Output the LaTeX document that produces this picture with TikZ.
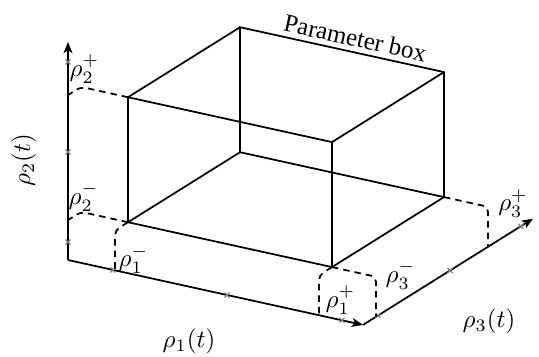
\documentclass[tikz,border=0pt]{standalone}
\usepackage{fontspec}
\newfontfamily\timesfont{Liberation Serif}
\usetikzlibrary{arrows.meta}
\begin{document}
\begin{tikzpicture}[x={(0.4pt,-0.088pt)}, y={(0pt,0.4pt)}, z={(0.4pt,0.25pt)},
  edge/.style={line width=0.7pt},
  proj/.style={line width=0.7pt, rounded corners=2pt, dash pattern=on 2.6pt off 2pt},
  axisline/.style={line width=0.7pt, -{Stealth[length=4.5pt,width=3.6pt,inset=1.2pt]}},
  tickmarks/.style={gray, line width=0.5pt},
  lab/.style={inner sep=0pt}]
\useasboundingbox (-27.2pt,-38.4pt) rectangle (188.4pt,104pt);
% axes
\coordinate (O) at (0,0,0);
\coordinate (X1) at (295,0,0);
\coordinate (Ytip) at (0,218,0);
\coordinate (Ztip) at (295,0,170);
\draw[axisline] (O) -- (Ytip);
\draw[axisline] (O) -- (X1);
\draw[axisline] (X1) -- (Ztip);
% ticks
\draw[tickmarks] plot[only marks, mark=x, mark size=1.4pt] coordinates {(0,18,0) (0,108,0) (0,198,0)};
\draw[tickmarks] plot[only marks, mark=x, mark size=1.4pt] coordinates {(45,0,0) (159,0,0) (274,0,0)};
\draw[tickmarks] plot[only marks, mark=x, mark size=1.4pt] coordinates {(295,0,15) (295,0,87) (295,0,158)};
% box corners
\coordinate (A) at (47,40,13);
\coordinate (B) at (251,40,13);
\coordinate (C) at (47,165,13);
\coordinate (D) at (251,165,13);
\coordinate (F) at (47,40,125);
\coordinate (H) at (251,40,125);
\coordinate (E) at (47,165,125);
\coordinate (G) at (251,165,125);
\draw[edge] (A) -- (B) -- (D) -- (C) -- cycle;
\draw[edge] (F) -- (H) -- (G) -- (E) -- cycle;
\draw[edge] (A) -- (F);
\draw[edge] (B) -- (H);
\draw[edge] (C) -- (E);
\draw[edge] (D) -- (G);
\path (E) -- (G) node[pos=0.55, sloped, above, inner sep=2pt, font=\timesfont] (title) {Parameter box};
% projection corners
\coordinate (p2pc) at (0,165,13);
\coordinate (p2pe) at (0,165,0);
\coordinate (p2mc) at (0,40,13);
\coordinate (p2me) at (0,40,0);
\coordinate (p1mc) at (47,40,0);
\coordinate (p1me) at (47,0,0);
\coordinate (p1pc) at (251,40,0);
\coordinate (p1pe) at (251,0,0);
\coordinate (p3mc) at (295,40,13);
\coordinate (p3me) at (295,0,13);
\coordinate (p3pc) at (295,40,125);
\coordinate (p3pe) at (295,0,125);
\draw[proj] (C) -- (p2pc) -- (p2pe);
\draw[proj] (A) -- (p2mc) -- (p2me);
\draw[proj] (A) -- (p1mc) -- (p1me);
\draw[proj] (B) -- (p1pc) -- (p1pe);
\draw[proj] (B) -- (p3mc) -- (p3me);
\draw[proj] (H) -- (p3pc) -- (p3pe);
% labels
\node[lab] (r2p) at (6.6pt,76.4pt) {$\rho_2^+$};
\node[lab] (r2m) at (6.2pt,25.2pt) {$\rho_2^-$};
\node[lab] (r1m) at (26.2pt,0.2pt) {$\rho_1^-$};
\node[lab] (r1p) at (109pt,-16pt) {$\rho_1^+$};
\node[lab] (r3m) at (133pt,-6pt) {$\rho_3^-$};
\node[lab] (r3p) at (178pt,22.6pt) {$\rho_3^+$};
\node[lab] (r1t) at (48.4pt,-32.6pt) {$\rho_1(t)$};
\node[lab] (r3t) at (168.4pt,-24.6pt) {$\rho_3(t)$};
\node[lab, rotate=90] (r2t) at (-17.6pt,40pt) {$\rho_2(t)$};
\end{tikzpicture}
\end{document}
